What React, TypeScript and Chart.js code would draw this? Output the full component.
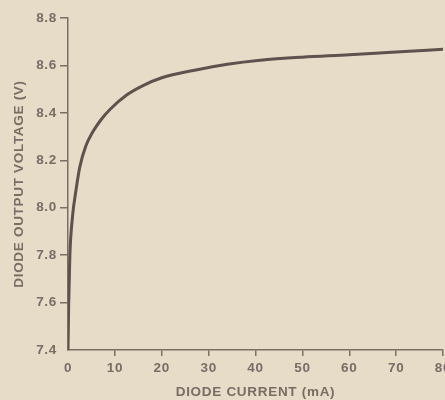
import React, { useEffect, useRef } from "react";
import { Chart, registerables } from "chart.js";

Chart.register(...registerables);

// Diode current (mA)
const currentMA = [0, 0.15, 0.4, 1.0, 1.6, 2.5, 3.8, 5.3, 7, 9, 12.5, 16, 20, 27, 34, 41, 50, 60, 70, 80];
// Diode output voltage (V)
const voltageV = [7.4, 7.6, 7.8, 7.97, 8.06, 8.17, 8.26, 8.32, 8.37, 8.415, 8.475, 8.515, 8.548, 8.58, 8.605, 8.622, 8.635, 8.645, 8.657, 8.668];

const xTitle = "DIODE CURRENT (mA)";
const yTitle = "DIODE OUTPUT VOLTAGE (V)";

const BG = "#e7dcc7";
const AXIS = "#7a6e66";
const LINE = "#5d524d";
const TEXT = "#786d66";
const FONT = "'Liberation Sans', Arial, sans-serif";

const spacing = {
  id: "letterSpacing",
  beforeDraw(chart: any) {
    (chart.ctx as any).letterSpacing = "0.7px";
  },
};

export default function App() {
  const ref = useRef<HTMLCanvasElement | null>(null);

  useEffect(() => {
    document.body.style.margin = "0";
    const ctx = ref.current!.getContext("2d")!;
    const tickColor = (c: any) => (c.index === 0 ? "rgba(0,0,0,0)" : AXIS);
    const chart = new Chart(ctx, {
      type: "line",
      data: {
        datasets: [
          {
            data: currentMA.map((x, i) => ({ x, y: voltageV[i] })),
            borderColor: LINE,
            borderWidth: 3,
            pointRadius: 0,
            cubicInterpolationMode: "monotone",
            fill: false,
          },
        ],
      },
      options: {
        animation: false,
        responsive: false,
        layout: { padding: { top: 18, right: 17, left: 0, bottom: 0 } },
        plugins: { legend: { display: false }, tooltip: { enabled: false } },
        scales: {
          x: {
            type: "linear",
            min: 0,
            max: 80,
            ticks: { stepSize: 10, color: TEXT, font: { family: FONT, size: 13.5, weight: "bold" }, padding: 4 },
            grid: { drawOnChartArea: false, drawTicks: true, tickLength: 6, color: tickColor, lineWidth: 1.5 },
            border: { display: true, color: AXIS, width: 1.5 },
            title: { display: true, text: xTitle, color: TEXT, font: { family: FONT, size: 13.5, weight: "bold" }, padding: { top: 2, bottom: 0 } },
            afterFit: (s: any) => { s.height = 50; },
          },
          y: {
            type: "linear",
            min: 7.4,
            max: 8.8,
            ticks: {
              stepSize: 0.2,
              color: TEXT,
              font: { family: FONT, size: 13.5, weight: "bold" },
              padding: 3,
              callback: (v: any) => Number(v).toFixed(1),
            },
            grid: { drawOnChartArea: false, drawTicks: true, tickLength: 8, color: tickColor, lineWidth: 1.5 },
            border: { display: true, color: AXIS, width: 1.5 },
            title: { display: true, text: yTitle, color: TEXT, font: { family: FONT, size: 13.5, weight: "bold" }, padding: { top: 11, bottom: 0 } },
            afterFit: (s: any) => { s.width = 68; },
          },
        },
      },
      plugins: [spacing],
    });
    return () => chart.destroy();
  }, []);

  return (
    <div style={{ position: "relative", width: 445, height: 400, overflow: "hidden", background: BG }}>
      <canvas ref={ref} width={460} height={400} style={{ display: "block", width: 460, height: 400 }} />
    </div>
  );
}
